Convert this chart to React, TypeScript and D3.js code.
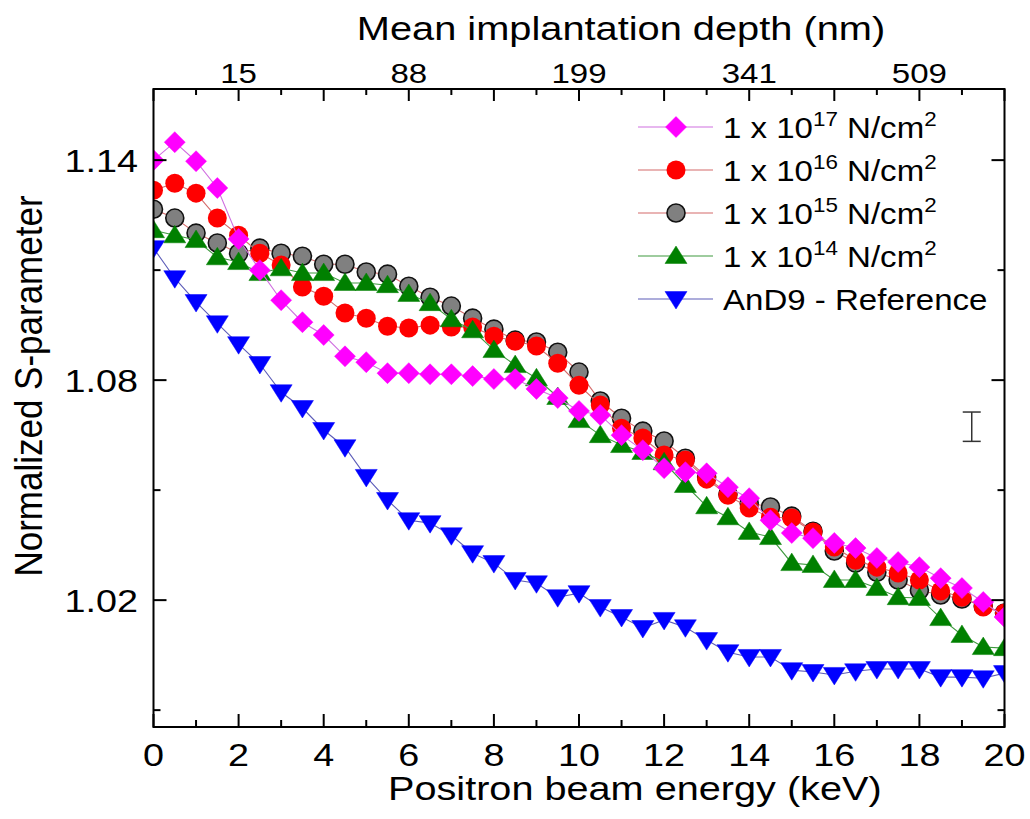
import React from "react";
import * as d3 from "d3";

const energies = [0, 0.5, 1, 1.5, 2, 2.5, 3, 3.5, 4, 4.5, 5, 5.5, 6, 6.5, 7, 7.5, 8, 8.5, 9, 9.5, 10, 10.5, 11, 11.5, 12, 12.5, 13, 13.5, 14, 14.5, 15, 15.5, 16, 16.5, 17, 17.5, 18, 18.5, 19, 19.5, 20];

const s17 = [1.1400, 1.1449, 1.1397, 1.1324, 1.1185, 1.1100, 1.1018, 1.0958, 1.0923, 1.0865, 1.0849, 1.0819, 1.0819, 1.0816, 1.0816, 1.0811, 1.0803, 1.0803, 1.0776, 1.0751, 1.0716, 1.0705, 1.0650, 1.0609, 1.0560, 1.0549, 1.0546, 1.0508, 1.0478, 1.0418, 1.0383, 1.0369, 1.0356, 1.0342, 1.0315, 1.0304, 1.0290, 1.0260, 1.0233, 1.0195, 1.0154];
const s16 = [1.1318, 1.1337, 1.1310, 1.1242, 1.1195, 1.1146, 1.1114, 1.1054, 1.1029, 1.0983, 1.0969, 1.0947, 1.0942, 1.0950, 1.0945, 1.0945, 1.0920, 1.0906, 1.0893, 1.0846, 1.0786, 1.0732, 1.0669, 1.0642, 1.0596, 1.0582, 1.0530, 1.0486, 1.0451, 1.0426, 1.0424, 1.0386, 1.0345, 1.0309, 1.0290, 1.0274, 1.0255, 1.0225, 1.0208, 1.0181, 1.0165];
const s15 = [1.1266, 1.1242, 1.1201, 1.1174, 1.1146, 1.1160, 1.1146, 1.1138, 1.1116, 1.1116, 1.1095, 1.1089, 1.1056, 1.1026, 1.1002, 1.0969, 1.0939, 1.0909, 1.0904, 1.0876, 1.0822, 1.0743, 1.0696, 1.0661, 1.0634, 1.0587, 1.0536, 1.0489, 1.0465, 1.0454, 1.0429, 1.0388, 1.0334, 1.0301, 1.0276, 1.0255, 1.0227, 1.0214, 1.0203, 1.0184, 1.0165];
const s14 = [1.1209, 1.1195, 1.1182, 1.1135, 1.1122, 1.1092, 1.1105, 1.1092, 1.1092, 1.1065, 1.1065, 1.1059, 1.1035, 1.1010, 1.0966, 1.0936, 1.0882, 1.0841, 1.0805, 1.0754, 1.0691, 1.0650, 1.0623, 1.0604, 1.0576, 1.0514, 1.0456, 1.0426, 1.0386, 1.0372, 1.0301, 1.0296, 1.0255, 1.0255, 1.0233, 1.0208, 1.0206, 1.0151, 1.0105, 1.0072, 1.0069];
const sRef = [1.1160, 1.1078, 1.1013, 1.0955, 1.0898, 1.0844, 1.0767, 1.0724, 1.0664, 1.0617, 1.0536, 1.0473, 1.0418, 1.0410, 1.0377, 1.0328, 1.0301, 1.0255, 1.0246, 1.0208, 1.0219, 1.0181, 1.0154, 1.0124, 1.0146, 1.0126, 1.0091, 1.0058, 1.0045, 1.0045, 1.0009, 1.0004, 0.9996, 1.0006, 1.0012, 1.0012, 1.0012, 0.9990, 0.9990, 0.9987, 1.0001];

const xTicks = [0, 2, 4, 6, 8, 10, 12, 14, 16, 18, 20];
const xMinorTicks = [1, 3, 5, 7, 9, 11, 13, 15, 17, 19];
const yTicks = [1.02, 1.08, 1.14];
const yMinorTicks = [0.99, 1.05, 1.11];
const topTickEnergies = [2, 6, 10, 14, 18];
const topTickLabels = ["15", "88", "199", "341", "509"];
const errBar = { x: 19.23, y: 1.0673, e: 0.004 };

const FONT = "'Liberation Sans', Arial, Helvetica, sans-serif";

const L = 153.5, R = 1004.5, T = 89, B = 727;
const x = d3.scaleLinear().domain([0, 20]).range([L, R]);
const y = d3.scaleLinear().domain([0.9854, 1.1594]).range([B, T]);

type Shape = "diamond" | "circle" | "up" | "down";

function markerPath(shape: Shape): string {
  if (shape === "diamond") return "M0,-10.5L10.5,0L0,10.5L-10.5,0Z";
  if (shape === "up") return "M0,-10L11,7.5L-11,7.5Z";
  if (shape === "down") return "M0,10L11,-7.5L-11,-7.5Z";
  return "";
}

const Marker = ({ shape, fill, stroke, cx, cy }: any) => {
  if (shape === "circle") {
    return <circle cx={cx} cy={cy} r={stroke ? 9 : 9.5} fill={fill} stroke={stroke || "none"} strokeWidth={stroke ? 1.6 : 0} />;
  }
  return <path d={markerPath(shape)} transform={`translate(${cx},${cy})`} fill={fill} stroke={fill} strokeWidth={0.5} />;
};

const series = [
  { key: "ref", values: sRef, shape: "down" as Shape, fill: "#0000ff", stroke: null, line: "#5c5cb8", label: null, text: "AnD9 - Reference" },
  { key: "e15", values: s15, shape: "circle" as Shape, fill: "#808080", stroke: "#111", line: "#d46a6a", label: "15" },
  { key: "e16", values: s16, shape: "circle" as Shape, fill: "#ff0000", stroke: null, line: "#d46a6a", label: "16" },
  { key: "e14", values: s14, shape: "up" as Shape, fill: "#008000", stroke: null, line: "#3f9a3f", label: "14" },
  { key: "e17", values: s17, shape: "diamond" as Shape, fill: "#ff00ff", stroke: null, line: "#d070e0", label: "17" },
];

const legendOrder = ["e17", "e16", "e15", "e14", "ref"];

const Txt = ({ x: tx, y: ty, size, anchor = "middle", sx = 1.18, rotate = 0, children }: any) => (
  <g transform={`translate(${tx},${ty}) scale(${sx},1)${rotate ? ` rotate(${rotate})` : ""}`}>
    <text x={0} y={0} fontSize={size} textAnchor={anchor} fontFamily={FONT} fill="#000">{children}</text>
  </g>
);

export default function App() {
  const line = d3.line<number>().x((_, i) => x(energies[i])).y((d) => y(d));
  return (
    <svg width={1030} height={819} style={{ position: "absolute", left: 0, top: 0, background: "#fff" }}>
      <defs>
        <clipPath id="plotclip">
          <rect x={L} y={T} width={R - L} height={B - T} />
        </clipPath>
      </defs>
      <rect x={0} y={0} width={1030} height={819} fill="#fff" />

      {/* series */}
      <g clipPath="url(#plotclip)">
        {series.map((s) => (
          <g key={s.key}>
            <path d={line(s.values) || ""} fill="none" stroke={s.line} strokeWidth={1.1} />
            {s.values.map((v, i) => (
              <Marker key={i} shape={s.shape} fill={s.fill} stroke={s.stroke} cx={x(energies[i])} cy={y(v)} />
            ))}
          </g>
        ))}
      </g>

      {/* error bar */}
      <g stroke="#333" strokeWidth={1.5}>
        <line x1={x(errBar.x)} x2={x(errBar.x)} y1={y(errBar.y + errBar.e)} y2={y(errBar.y - errBar.e)} />
        <line x1={x(errBar.x) - 9} x2={x(errBar.x) + 9} y1={y(errBar.y + errBar.e)} y2={y(errBar.y + errBar.e)} />
        <line x1={x(errBar.x) - 9} x2={x(errBar.x) + 9} y1={y(errBar.y - errBar.e)} y2={y(errBar.y - errBar.e)} />
      </g>

      {/* frame */}
      <rect x={L} y={T} width={R - L} height={B - T} fill="none" stroke="#000" strokeWidth={2} />

      {/* ticks */}
      <g stroke="#000" strokeWidth={2}>
        {xTicks.map((t) => (
          <line key={"bx" + t} x1={x(t)} x2={x(t)} y1={B} y2={B - 13} />
        ))}
        {xMinorTicks.map((t) => (
          <line key={"bm" + t} x1={x(t)} x2={x(t)} y1={B} y2={B - 7} />
        ))}
        {xTicks.map((t) => (
          <line key={"tx" + t} x1={x(t)} x2={x(t)} y1={T} y2={T + 12} />
        ))}
        {xMinorTicks.map((t) => (
          <line key={"tm" + t} x1={x(t)} x2={x(t)} y1={T} y2={T + 6} />
        ))}
        {yTicks.map((t) => (
          <g key={"y" + t}>
            <line x1={L} x2={L + 13} y1={y(t)} y2={y(t)} />
            <line x1={R} x2={R - 13} y1={y(t)} y2={y(t)} />
          </g>
        ))}
        {yMinorTicks.map((t) => (
          <g key={"ym" + t}>
            <line x1={L} x2={L + 7} y1={y(t)} y2={y(t)} />
            <line x1={R} x2={R - 7} y1={y(t)} y2={y(t)} />
          </g>
        ))}
      </g>

      {/* tick labels */}
      {xTicks.map((t) => (
        <Txt key={"xl" + t} x={x(t)} y={766} size={32}>{String(t)}</Txt>
      ))}
      {yTicks.map((t) => (
        <Txt key={"yl" + t} x={138} y={y(t) + 12} size={32} anchor="end">{t.toFixed(2)}</Txt>
      ))}
      {topTickEnergies.map((t, i) => (
        <Txt key={"tl" + t} x={x(t)} y={83} size={28}>{topTickLabels[i]}</Txt>
      ))}

      {/* axis titles */}
      <Txt x={388} y={800} size={32.5} sx={1.22} anchor="start">Positron beam energy (keV)</Txt>
      <Txt x={(L + R) / 2 + 42} y={40} size={34} sx={1.17}>Mean implantation depth (nm)</Txt>
      <g transform={`translate(42,386) scale(1.1,1) rotate(-90)`}>
        <text x={0} y={0} fontSize={35} textAnchor="middle" fontFamily={FONT}>Normalized S-parameter</text>
      </g>

      {/* legend */}
      {legendOrder.map((k, i) => {
        const s = series.find((q) => q.key === k)!;
        const ly = 127 + i * 43;
        return (
          <g key={"lg" + k}>
            <line x1={638} x2={713} y1={ly} y2={ly} stroke={s.line} strokeWidth={1.2} />
            <Marker shape={s.shape} fill={s.fill} stroke={s.stroke} cx={676} cy={ly} />
            <g transform={`translate(723,${ly + 11}) scale(1.12,1)`}>
              <text x={0} y={0} fontSize={29.5} fontFamily={FONT}>
                {s.label ? (
                  <>
                    1 x 10
                    <tspan fontSize={20} dy={-12}>{s.label}</tspan>
                    <tspan dy={12}> N/cm</tspan>
                    <tspan fontSize={20} dy={-12}>2</tspan>
                  </>
                ) : (
                  s.text
                )}
              </text>
            </g>
          </g>
        );
      })}
    </svg>
  );
}
